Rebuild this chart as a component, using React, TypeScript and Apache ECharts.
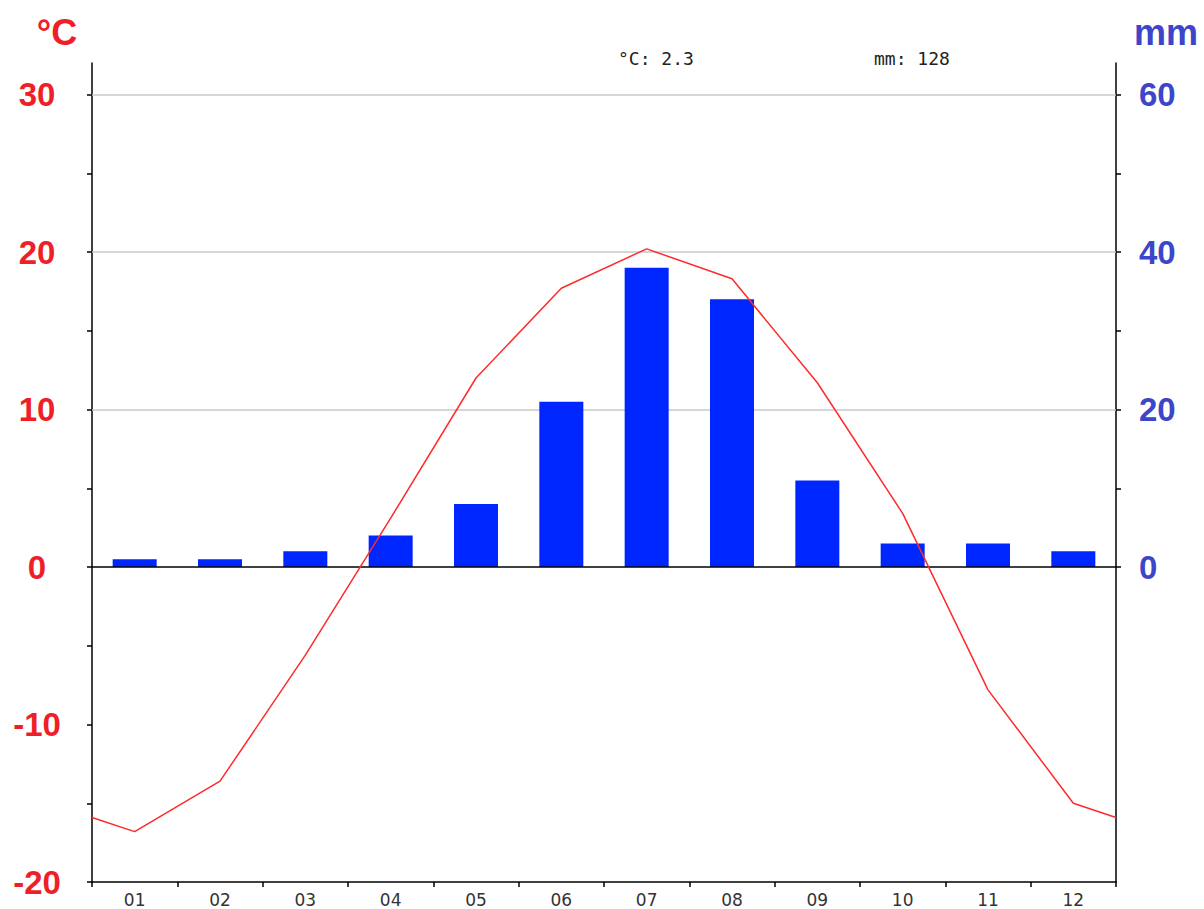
import React, { useEffect, useRef } from "react";
import * as echarts from "echarts";

const months = ["01", "02", "03", "04", "05", "06", "07", "08", "09", "10", "11", "12"];
const temperature = [-16.8, -13.6, -5.6, 3.1, 12.0, 17.7, 20.2, 18.3, 11.7, 3.4, -7.8, -15.0];
const precipitation = [1, 1, 2, 4, 8, 21, 38, 34, 11, 3, 3, 2];
const tempTicks = [-20, -15, -10, -5, 0, 5, 10, 15, 20, 25, 30];
const tempLabels = [-20, -10, 0, 10, 20, 30];
const precTicks = [0, 10, 20, 30, 40, 50, 60];
const precLabels = [0, 20, 40, 60];
const precGridLines = [20, 40, 60];

const RED = "#ef1f2a";
const BLUE = "#3c46c8";

export default function App() {
  const ref = useRef<HTMLDivElement>(null);

  useEffect(() => {
    if (!ref.current) return;
    const chart = echarts.init(ref.current, undefined, { renderer: "svg" });

    const edge = (temperature[0] + temperature[temperature.length - 1]) / 2;
    const lineData: number[][] = [[0.5, edge]];
    temperature.forEach((t, i) => lineData.push([i + 1, t]));
    lineData.push([temperature.length + 0.5, edge]);

    const mean = temperature.reduce((a, b) => a + b, 0) / temperature.length;
    const total = precipitation.reduce((a, b) => a + b, 0);

    chart.setOption({
      animation: false,
      backgroundColor: "#ffffff",
      grid: { left: 92, right: 88, top: 63, bottom: 27, containLabel: false },
      xAxis: [
        {
          type: "category",
          data: months,
          boundaryGap: true,
          position: "bottom",
          axisLine: { onZero: false, lineStyle: { color: "#000", width: 1.5 } },
          axisTick: { show: true, length: 5, lineStyle: { color: "#000", width: 1.5 } },
          axisLabel: { color: "#333", fontSize: 17, fontFamily: "DejaVu Sans", margin: 9 },
          splitLine: { show: false },
        },
        {
          type: "value",
          min: 0.5,
          max: temperature.length + 0.5,
          show: false,
        },
      ],
      yAxis: [
        {
          type: "value",
          position: "left",
          min: -20,
          max: 32,
          axisLine: { show: true, onZero: false, lineStyle: { color: "#000", width: 1.5 } },
          axisTick: { show: true, length: 5, customValues: tempTicks, lineStyle: { color: "#000", width: 1.5 } },
          axisLabel: {
            customValues: tempLabels,
            color: RED,
            fontSize: 33,
            fontWeight: "bold",
            fontFamily: "Liberation Sans",
            align: "center",
            margin: 55,
          },
          splitLine: { show: false },
        },
        {
          type: "value",
          position: "right",
          min: -40,
          max: 64,
          axisLine: { show: true, onZero: false, lineStyle: { color: "#000", width: 1.5 } },
          axisTick: { show: true, length: 5, customValues: precTicks, lineStyle: { color: "#000", width: 1.5 } },
          axisLabel: {
            customValues: precLabels,
            color: BLUE,
            fontSize: 33,
            fontWeight: "bold",
            fontFamily: "Liberation Sans",
            align: "left",
            margin: 23,
          },
          splitLine: { show: false },
        },
      ],
      series: [
        {
          type: "bar",
          xAxisIndex: 0,
          yAxisIndex: 1,
          data: precipitation,
          barWidth: 44,
          itemStyle: { color: "#0026ff" },
          markLine: {
            silent: true,
            z: 1,
            symbol: "none",
            label: { show: false },
            lineStyle: { color: "#c8c8c8", width: 1.5, type: "solid" },
            data: precGridLines.map((v) => ({ yAxis: v })),
          },
        },
        {
          type: "line",
          xAxisIndex: 1,
          yAxisIndex: 0,
          data: lineData,
          showSymbol: false,
          symbol: "none",
          lineStyle: { color: "#ff2a2a", width: 1.5 },
          z: 4,
          markLine: {
            silent: true,
            z: 3,
            symbol: "none",
            label: { show: false },
            lineStyle: { color: "#000", width: 1.5, type: "solid" },
            data: [{ yAxis: 0 }],
          },
        },
      ],
      graphic: [
        {
          type: "text",
          x: 57,
          y: 32,
          style: {
            text: "°C",
            fill: RED,
            font: "bold 36px 'Liberation Sans', Arial, sans-serif",
            textAlign: "center",
            textVerticalAlign: "middle",
          },
        },
        {
          type: "text",
          x: 1166,
          y: 32,
          style: {
            text: "mm",
            fill: BLUE,
            font: "bold 36px 'Liberation Sans', Arial, sans-serif",
            textAlign: "center",
            textVerticalAlign: "middle",
          },
        },
        {
          type: "text",
          x: 618,
          y: 58,
          style: {
            text: "°C: " + mean.toFixed(1),
            fill: "#222",
            font: "18px 'DejaVu Sans Mono', monospace",
            textAlign: "left",
            textVerticalAlign: "middle",
          },
        },
        {
          type: "text",
          x: 874,
          y: 58,
          style: {
            text: "mm: " + Math.round(total),
            fill: "#222",
            font: "18px 'DejaVu Sans Mono', monospace",
            textAlign: "left",
            textVerticalAlign: "middle",
          },
        },
      ],
    });

    return () => chart.dispose();
  }, []);

  return (
    <div
      ref={ref}
      style={{ position: "absolute", left: 0, top: 0, width: 1204, height: 909 }}
    />
  );
}
